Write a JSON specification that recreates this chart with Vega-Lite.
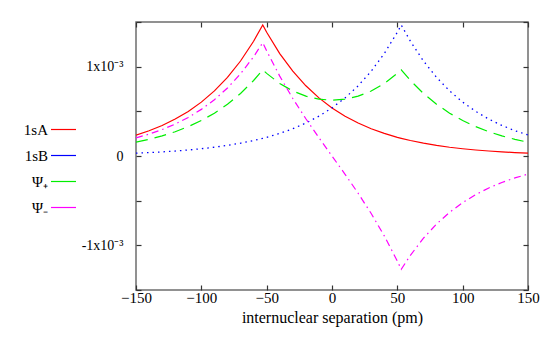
{
  "$schema": "https://vega.github.io/schema/vega-lite/v6.json",
  "width": 392,
  "height": 268,
  "autosize": {"type": "none"},
  "padding": {"left": 136, "top": 22, "right": 22, "bottom": 57},
  "background": "white",
  "config": {
    "view": {"stroke": "#6e6e6e", "strokeWidth": 1.5},
    "font": "Liberation Serif",
    "legend": {
      "orient": "none", "legendX": -86, "legendY": 94,
      "labelFont": "Liberation Serif", "labelFontSize": 15, "labelColor": "#000",
      "labelAlign": "right", "labelOffset": -29, "labelBaseline": "middle",
      "symbolType": "stroke", "symbolSize": 625, "symbolStrokeWidth": 1.2, "rowPadding": 4
    }
  },
  "data": {
    "values": [
      {"x": -150, "A": 0.0002344, "B": 0.0000316, "P": 0.0001543, "M": 0.0002028},
      {"x": -140, "A": 0.0002831, "B": 0.0000382, "P": 0.0001864, "M": 0.0002449},
      {"x": -130, "A": 0.0003421, "B": 0.0000461, "P": 0.0002252, "M": 0.0002960},
      {"x": -120, "A": 0.0004132, "B": 0.0000557, "P": 0.0002720, "M": 0.0003575},
      {"x": -110, "A": 0.0004992, "B": 0.0000673, "P": 0.0003286, "M": 0.0004319},
      {"x": -100, "A": 0.0006031, "B": 0.0000813, "P": 0.0003970, "M": 0.0005218},
      {"x": -90, "A": 0.0007286, "B": 0.0000982, "P": 0.0004795, "M": 0.0006304},
      {"x": -80, "A": 0.0008802, "B": 0.0001187, "P": 0.0005794, "M": 0.0007615},
      {"x": -70, "A": 0.0010634, "B": 0.0001434, "P": 0.0006999, "M": 0.0009200},
      {"x": -60, "A": 0.0012846, "B": 0.0001732, "P": 0.0008455, "M": 0.0011114},
      {"x": -53, "A": 0.0014664, "B": 0.0001977, "P": 0.0009652, "M": 0.0012687},
      {"x": -50, "A": 0.0013856, "B": 0.0002092, "P": 0.0009250, "M": 0.0011764},
      {"x": -40, "A": 0.0011469, "B": 0.0002528, "P": 0.0008118, "M": 0.0008941},
      {"x": -30, "A": 0.0009494, "B": 0.0003054, "P": 0.0007278, "M": 0.0006440},
      {"x": -20, "A": 0.0007858, "B": 0.0003689, "P": 0.0006697, "M": 0.0004169},
      {"x": -10, "A": 0.0006505, "B": 0.0004457, "P": 0.0006358, "M": 0.0002048},
      {"x": 0, "A": 0.0005384, "B": 0.0005384, "P": 0.0006245, "M": 0},
      {"x": 10, "A": 0.0004457, "B": 0.0006505, "P": 0.0006358, "M": -0.0002048},
      {"x": 20, "A": 0.0003689, "B": 0.0007858, "P": 0.0006697, "M": -0.0004169},
      {"x": 30, "A": 0.0003054, "B": 0.0009494, "P": 0.0007278, "M": -0.0006440},
      {"x": 40, "A": 0.0002528, "B": 0.0011469, "P": 0.0008118, "M": -0.0008941},
      {"x": 50, "A": 0.0002092, "B": 0.0013856, "P": 0.0009250, "M": -0.0011764},
      {"x": 53, "A": 0.0001977, "B": 0.0014664, "P": 0.0009652, "M": -0.0012687},
      {"x": 60, "A": 0.0001732, "B": 0.0012846, "P": 0.0008455, "M": -0.0011114},
      {"x": 70, "A": 0.0001434, "B": 0.0010634, "P": 0.0006999, "M": -0.0009200},
      {"x": 80, "A": 0.0001187, "B": 0.0008802, "P": 0.0005794, "M": -0.0007615},
      {"x": 90, "A": 0.0000982, "B": 0.0007286, "P": 0.0004795, "M": -0.0006304},
      {"x": 100, "A": 0.0000813, "B": 0.0006031, "P": 0.0003970, "M": -0.0005218},
      {"x": 110, "A": 0.0000673, "B": 0.0004992, "P": 0.0003286, "M": -0.0004319},
      {"x": 120, "A": 0.0000557, "B": 0.0004132, "P": 0.0002720, "M": -0.0003575},
      {"x": 130, "A": 0.0000461, "B": 0.0003421, "P": 0.0002252, "M": -0.0002960},
      {"x": 140, "A": 0.0000382, "B": 0.0002831, "P": 0.0001864, "M": -0.0002449},
      {"x": 150, "A": 0.0000316, "B": 0.0002344, "P": 0.0001543, "M": -0.0002028}
    ]
  },
  "transform": [{"fold": ["A", "B", "P", "M"], "as": ["series", "value"]}],
  "layer": [
    {
      "transform": [{"filter": "datum.series == 'A'"}],
      "mark": {"type": "line", "strokeWidth": 1.2, "clip": true},
      "encoding": {
        "x": {
          "field": "x", "type": "quantitative",
          "scale": {"domain": [-150, 150], "nice": false, "zero": false},
          "axis": {
            "orient": "bottom", "values": [-150, -100, -50, 0, 50, 100, 150],
            "domain": false, "grid": false, "tickSize": -5, "tickColor": "#333", "tickWidth": 1.2,
            "labelFont": "Liberation Serif", "labelFontSize": 15, "labelColor": "#000", "labelPadding": 5,
            "labelFlush": false,
            "title": "internuclear separation (pm)", "titleFont": "Liberation Serif", "titleFontSize": 16,
            "titleFontWeight": "normal", "titleColor": "#000", "titlePadding": 4
          }
        },
        "y": {
          "field": "value", "type": "quantitative",
          "scale": {"domain": [-0.0015, 0.0015], "nice": false, "zero": false},
          "axis": {
            "orient": "left", "values": [-0.0015, -0.001, -0.0005, 0, 0.0005, 0.001, 0.0015],
            "labelExpr": "abs(datum.value - 0.001) < 1e-9 ? '1x10⁻³' : abs(datum.value + 0.001) < 1e-9 ? '-1x10⁻³' : abs(datum.value) < 1e-9 ? '0' : ''",
            "domain": false, "grid": false, "tickSize": -5, "tickColor": "#333", "tickWidth": 1.2,
            "labelFont": "Liberation Serif", "labelFontSize": 14, "labelColor": "#000", "labelPadding": 18,
            "labelFlush": false, "title": null
          }
        },
        "color": {
          "field": "series", "type": "nominal",
          "scale": {"domain": ["A", "B", "P", "M"], "range": ["#ff0000", "#0000ff", "#00ee00", "#ff00ff"]},
          "legend": {"title": null, "labelExpr": "datum.label == 'A' ? '1sA' : datum.label == 'B' ? '1sB' : datum.label == 'P' ? 'Ψ₊' : 'Ψ₋'"}
        }
      }
    },
    {
      "transform": [{"filter": "datum.series == 'B'"}],
      "mark": {"type": "line", "strokeWidth": 1.3, "strokeDash": [1.5, 4], "clip": true},
      "encoding": {
        "x": {"field": "x", "type": "quantitative", "scale": {"domain": [-150, 150], "nice": false, "zero": false}, "axis": null},
        "y": {"field": "value", "type": "quantitative", "scale": {"domain": [-0.0015, 0.0015], "nice": false, "zero": false}, "axis": null},
        "color": {
          "field": "series", "type": "nominal",
          "scale": {"domain": ["A", "B", "P", "M"], "range": ["#ff0000", "#0000ff", "#00ee00", "#ff00ff"]},
          "legend": {"title": null, "labelExpr": "datum.label == 'A' ? '1sA' : datum.label == 'B' ? '1sB' : datum.label == 'P' ? 'Ψ₊' : 'Ψ₋'"}
        }
      }
    },
    {
      "transform": [{"filter": "datum.series == 'P'"}],
      "mark": {"type": "line", "strokeWidth": 1.2, "strokeDash": [12, 7], "clip": true},
      "encoding": {
        "x": {"field": "x", "type": "quantitative", "scale": {"domain": [-150, 150], "nice": false, "zero": false}, "axis": null},
        "y": {"field": "value", "type": "quantitative", "scale": {"domain": [-0.0015, 0.0015], "nice": false, "zero": false}, "axis": null},
        "color": {
          "field": "series", "type": "nominal",
          "scale": {"domain": ["A", "B", "P", "M"], "range": ["#ff0000", "#0000ff", "#00ee00", "#ff00ff"]},
          "legend": {"title": null, "labelExpr": "datum.label == 'A' ? '1sA' : datum.label == 'B' ? '1sB' : datum.label == 'P' ? 'Ψ₊' : 'Ψ₋'"}
        }
      }
    },
    {
      "transform": [{"filter": "datum.series == 'M'"}],
      "mark": {"type": "line", "strokeWidth": 1.2, "strokeDash": [7, 4, 1.5, 4], "clip": true},
      "encoding": {
        "x": {"field": "x", "type": "quantitative", "scale": {"domain": [-150, 150], "nice": false, "zero": false}, "axis": null},
        "y": {"field": "value", "type": "quantitative", "scale": {"domain": [-0.0015, 0.0015], "nice": false, "zero": false}, "axis": null},
        "color": {
          "field": "series", "type": "nominal",
          "scale": {"domain": ["A", "B", "P", "M"], "range": ["#ff0000", "#0000ff", "#00ee00", "#ff00ff"]},
          "legend": {"title": null, "labelExpr": "datum.label == 'A' ? '1sA' : datum.label == 'B' ? '1sB' : datum.label == 'P' ? 'Ψ₊' : 'Ψ₋'"}
        }
      }
    },
    {
      "mark": {"type": "line", "opacity": 0},
      "encoding": {
        "x": {
          "field": "x", "type": "quantitative",
          "scale": {"domain": [-150, 150], "nice": false, "zero": false},
          "axis": {"orient": "top", "values": [-150, -100, -50, 0, 50, 100, 150], "labels": false, "domain": false, "grid": false, "tickSize": -5, "tickColor": "#333", "tickWidth": 1.2, "title": null}
        },
        "y": {
          "field": "value", "type": "quantitative",
          "scale": {"domain": [-0.0015, 0.0015], "nice": false, "zero": false},
          "axis": {"orient": "right", "values": [-0.0015, -0.001, -0.0005, 0, 0.0005, 0.001, 0.0015], "labels": false, "domain": false, "grid": false, "tickSize": -5, "tickColor": "#333", "tickWidth": 1.2, "title": null}
        },
        "detail": {"field": "series", "type": "nominal"}
      }
    }
  ],
  "resolve": {"axis": {"x": "independent", "y": "independent"}}
}
